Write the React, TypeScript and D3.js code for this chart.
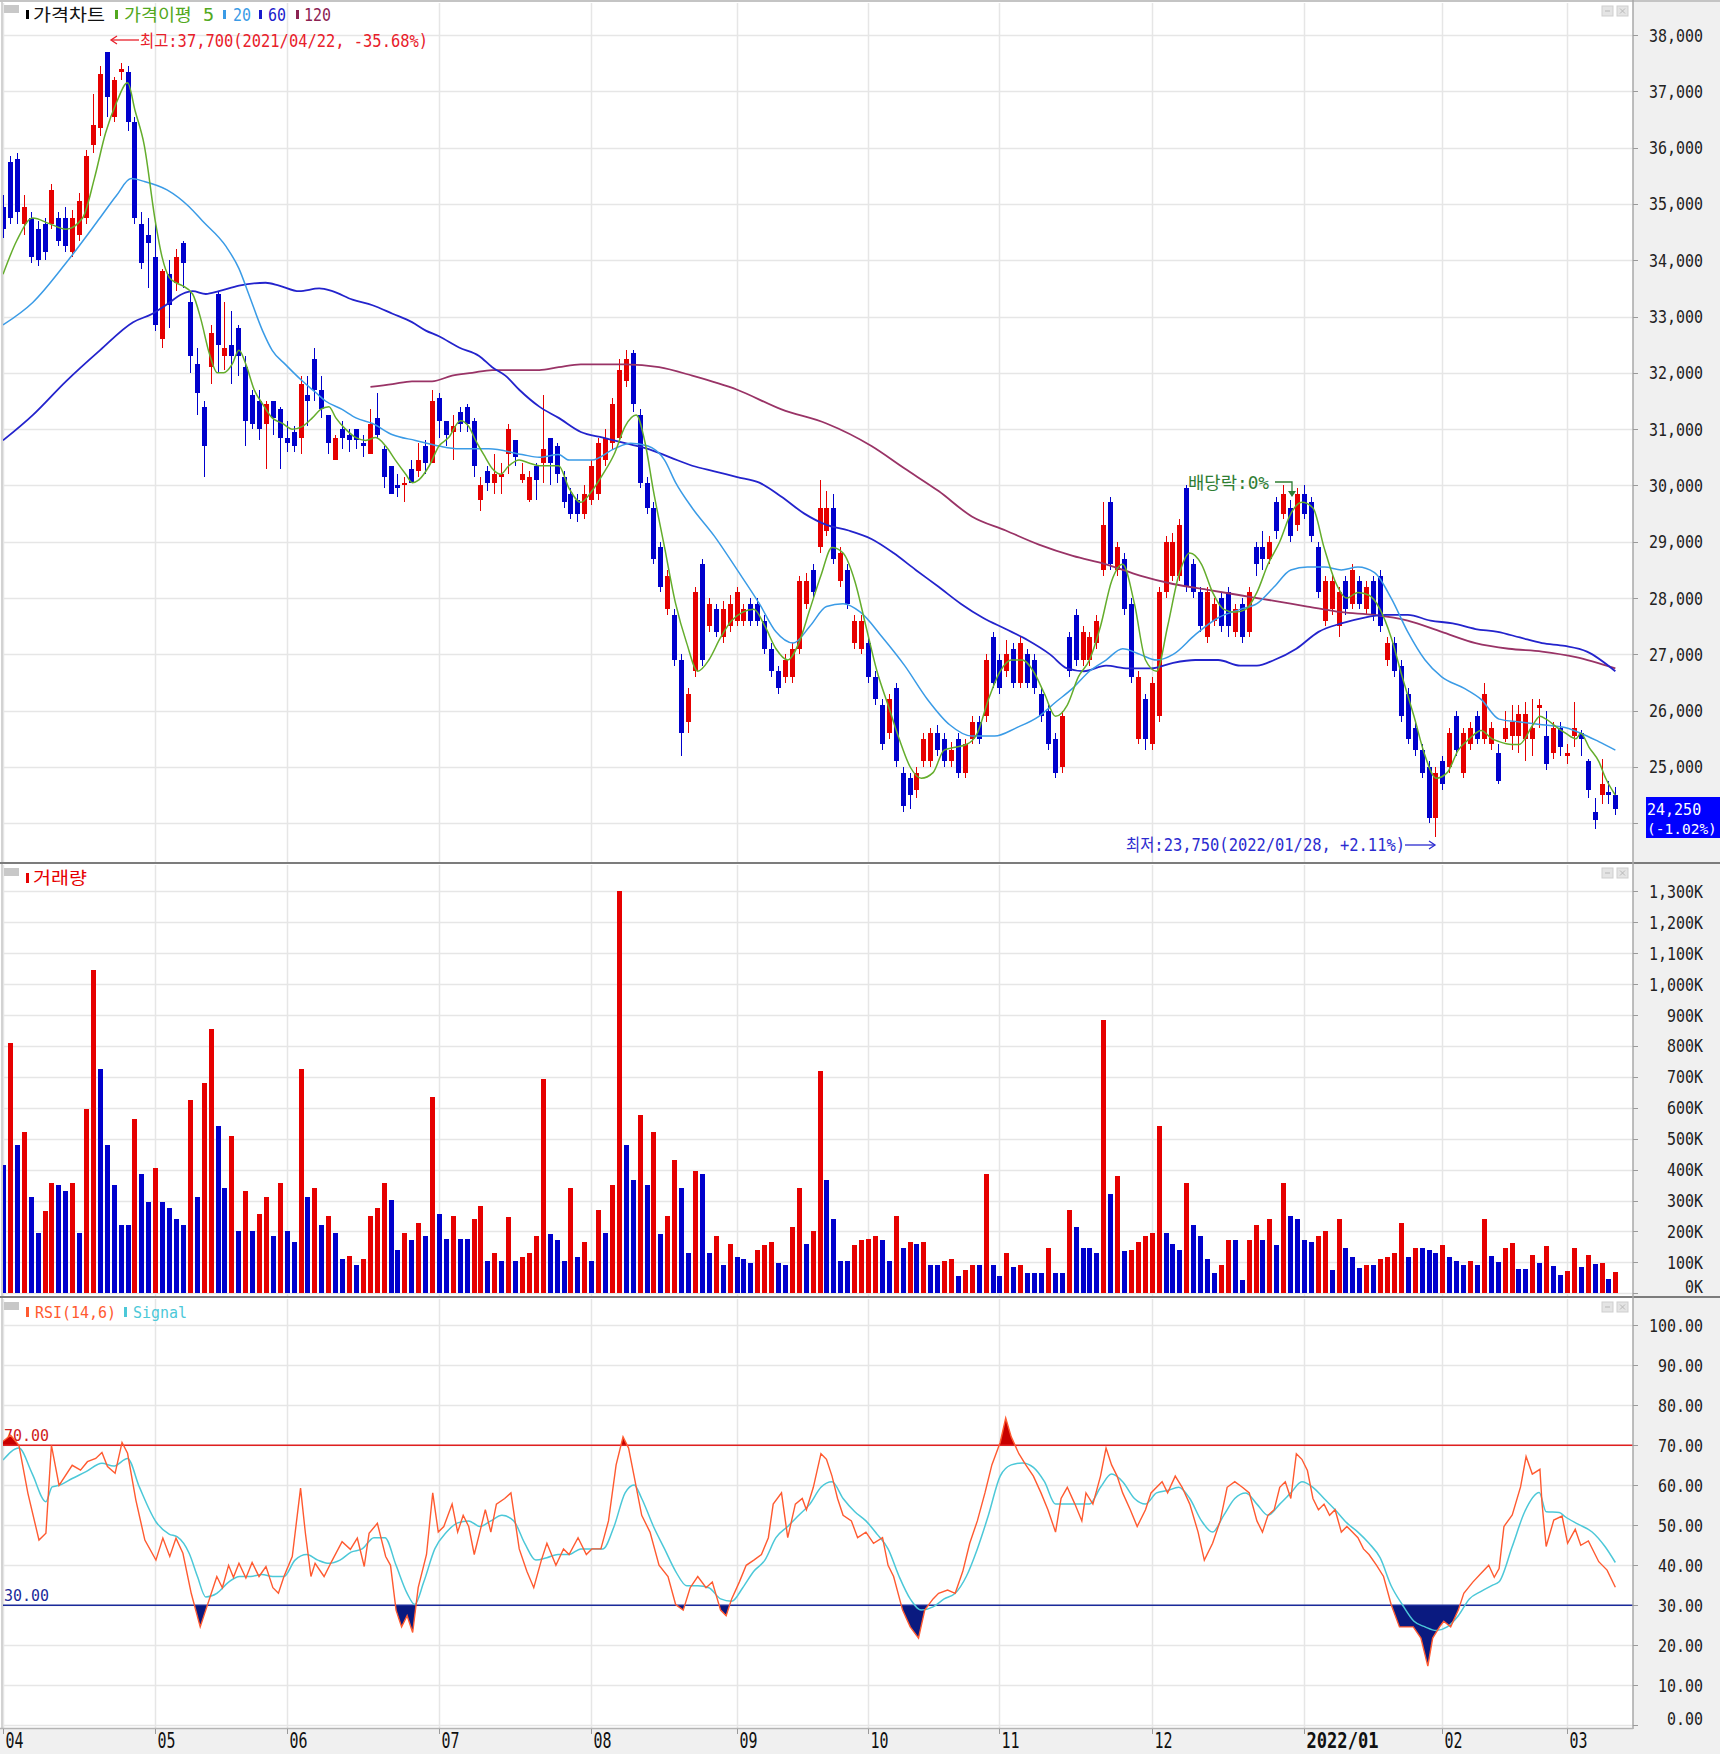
import React from 'react';
import * as d3 from 'd3';

// ---------------- DATA ----------------
const monthLabels = ['04', '05', '06', '07', '08', '09', '10', '11', '12', '2022/01', '02', '03'];
const monthStartIdx = [0, 22, 41, 63, 85, 106, 125, 144, 166, 188, 208, 226];

const opens = [
  34950,35750,35800,34650,34750,34550,34650,34650,34750,34750,
  34150,34450,34750,36050,36350,37700,36550,37350,37350,36450,
  34650,34450,34050,32600,33750,33600,34300,33250,32150,31400,
  32100,33400,32300,32500,32800,32100,31600,31500,31100,31500,
  31350,30850,30950,30850,31600,32250,31700,31250,30450,31000,
  30900,31000,30750,30550,31200,30650,30350,30000,30000,30300,
  30250,30700,30400,31550,31150,30950,31300,31400,31150,29750,
  30250,30050,30150,30550,30800,30100,29750,30350,30400,30850,
  30700,30150,29850,29750,29500,29750,29850,30450,30750,30850,
  31850,32350,31250,30050,29600,28900,27800,27700,26900,25800,
  26700,28600,27500,27800,27300,27500,27600,27600,27900,27900,
  27600,27100,26700,26600,26600,27100,27900,28500,28900,29200,
  29600,28300,28500,27200,27100,27200,26600,26100,25600,26400,
  24900,24800,24600,25100,25100,25600,25500,25100,25500,24900,
  25500,25800,25900,27300,26900,26700,27100,26500,27000,26900,
  26300,26000,25500,25000,27300,27700,26900,26900,27200,28500,
  29700,28500,28700,27900,25500,26200,25400,25900,28100,28400,
  28400,29950,28600,28100,27300,27600,28000,28100,27400,27900,
  27400,28900,28900,28700,29700,29500,29600,29300,29850,29700,
  28900,27600,27800,27500,28300,27900,28300,27800,28300,28400,
  26900,27200,26800,26300,25700,25300,25000,24100,25100,25000,
  25900,24900,25400,25900,25500,25400,25250,25500,25550,25550,
  25500,25500,26050,25550,25250,25700,25200,25550,25600,25100,
  24200,24500,24550,24500
];
const highs = [
  35150,35850,35900,35150,34850,34700,34750,35350,34850,34950,
  34900,35200,35950,36950,37450,37700,37250,37500,37450,36550,
  34850,34750,34700,33850,34000,34200,34350,33450,32450,31500,
  32850,33450,33250,33100,32850,32300,31700,31700,31500,31500,
  31400,31150,31050,31950,31950,32450,31950,31250,30900,31150,
  31000,31000,30900,31350,31650,30700,30350,30200,30150,30450,
  30750,30800,31700,31650,31150,31250,31400,31450,31200,30150,
  30350,30550,30400,31100,30800,30400,30250,30400,31600,30850,
  30750,30250,29950,29850,30000,30450,30850,31000,31550,32250,
  32400,32400,31350,30150,29700,29000,28500,27800,27000,26400,
  28200,28700,28000,27900,27950,28050,28200,27900,28000,28000,
  27700,27200,26800,27000,27200,28400,28450,28600,30100,29900,
  29850,28900,28600,27700,27700,27300,26700,26200,26300,26500,
  25000,24900,25000,25600,25700,25750,25600,25450,25600,25500,
  25900,25900,27000,27400,27000,27250,27200,27300,27100,27000,
  26400,26100,25600,26000,27400,27800,27500,27400,27700,29700,
  29800,29000,28800,28000,26700,26300,26600,28200,29100,29150,
  29400,30000,28700,28200,28200,28000,28100,28200,27900,28000,
  28200,29000,29200,29100,29800,30000,29750,29950,30000,29800,
  29000,28400,28450,28200,28400,28600,28400,28300,28400,28500,
  27300,27300,26900,26400,25800,25400,25100,25000,25200,25700,
  26000,25700,25800,26000,26500,25800,25400,26000,26100,26100,
  26150,26200,26200,26000,25800,25800,25400,26150,25650,25150,
  24450,25150,24750,24650
];
const lows = [
  34400,34650,34650,34450,33950,33900,34000,34550,34250,34150,
  34050,34350,34650,35900,36200,36550,36450,37200,36300,34650,
  33850,33500,32750,32450,32800,33450,33500,32000,31250,30150,
  31800,32000,32050,31800,31950,30700,31000,30800,30300,30900,
  30300,30600,30600,30550,31050,31500,31200,30550,30450,30650,
  30600,30650,30500,30550,30850,29950,29850,29800,29700,30050,
  30150,30200,30400,30850,30700,30450,30950,30950,30150,29550,
  29900,29850,29850,30200,30350,30050,29700,29750,30050,30000,
  30050,29600,29400,29350,29400,29650,29750,30350,30650,30750,
  31750,31300,29950,29500,28600,28100,27700,26800,25200,25600,
  26600,26800,27400,27300,27200,27400,27500,27500,27500,27500,
  27000,26600,26300,26500,26500,27000,27800,28000,28800,29100,
  28600,28200,27800,27100,27000,26500,26100,25300,25500,25000,
  24200,24250,24450,25000,25000,25200,25000,25000,24800,24800,
  25400,25400,25800,26400,26300,26600,26400,26400,26400,26300,
  25800,25300,24800,24900,26600,26800,26800,26800,27100,28400,
  28500,28400,27700,26500,25400,25300,25300,25800,28000,28300,
  28300,28100,28000,27400,27200,27500,27400,27300,27300,27200,
  27300,28400,28500,28600,29050,29400,29000,29200,29400,29000,
  28000,27500,27700,27300,27700,27800,27800,27700,27600,27400,
  26800,26600,25800,25400,25200,24800,24000,23750,24600,24900,
  25200,24800,25300,25400,25400,25300,24700,25450,25300,25250,
  25100,25200,25700,24950,25150,25200,25050,25350,25200,24450,
  23900,24350,24350,24150
];
const closes = [
  34550,34750,34850,34950,34050,34000,34150,35250,34350,34250,
  34750,35050,35850,36400,37300,36900,37200,37400,36450,34750,
  33950,34300,32850,33800,33200,34050,33950,32300,31650,30700,
  32700,32500,32450,32300,32300,31150,31100,31000,31450,31200,
  30850,30750,30700,31800,31500,31700,31350,30750,30850,30850,
  30800,30800,30700,31100,30900,30150,29850,29950,30050,30050,
  30450,30400,31500,31150,30900,31050,31100,31100,30350,30000,
  30050,30200,30200,31000,30500,30200,30150,30100,30650,30400,
  30200,29700,29500,29500,29850,30350,30750,30850,31450,32050,
  32250,31450,30050,29600,28700,28200,28400,26900,25600,26300,
  28100,26900,27900,27400,27800,27900,28100,27800,27600,27600,
  27100,26700,26400,26900,27100,28300,28300,28100,29600,29600,
  28700,28800,27900,27600,27600,26600,26200,25400,26200,25100,
  24300,24500,24900,25500,25600,25300,25100,25300,24900,25400,
  25800,25500,26900,26500,26400,27000,26500,27200,26500,26400,
  25900,25400,24900,25900,26700,26900,27400,27300,27600,29300,
  28600,28900,27800,26600,26600,25500,26500,28100,29000,29000,
  29300,28200,28100,27500,28100,27900,27500,27500,27800,27300,
  28100,28600,28700,29000,29200,29850,29100,29850,29500,29100,
  28100,28300,28300,28100,27800,28500,27900,28200,27700,27500,
  27200,26700,25900,25500,25300,24900,24100,24900,24700,25600,
  25300,25600,25700,25500,26300,25700,24750,25700,25800,25950,
  25950,25700,26100,25050,25700,25350,25250,25700,25500,24600,
  24050,24700,24500,24250
];

// volume in thousands of shares
const volumesK = [
  416,810,480,523,313,195,265,357,350,330,
  357,195,597,1046,726,480,350,221,221,563,
  387,295,405,295,276,240,221,626,313,681,
  855,541,339,508,203,331,203,258,313,184,
  357,203,166,726,313,339,221,250,195,110,
  122,92,110,250,276,357,302,140,195,173,
  228,184,634,258,177,250,177,177,240,284,
  103,129,103,247,103,118,129,184,692,192,
  173,103,339,118,166,103,269,195,350,1300,
  480,368,578,350,523,192,250,431,339,129,
  394,387,129,184,92,158,118,110,99,140,
  155,166,99,92,214,339,158,203,718,368,
  240,103,103,155,173,177,184,173,103,250,
  147,166,158,166,92,92,103,110,55,74,
  92,92,387,92,55,129,85,92,66,66,
  66,147,66,66,269,214,147,147,129,884,
  320,379,136,140,166,184,195,541,195,158,
  140,357,221,184,110,66,92,173,173,44,
  173,221,173,240,155,357,250,240,173,166,
  184,203,74,240,147,118,81,92,92,110,
  118,129,228,118,147,147,140,129,155,118,
  103,92,103,92,240,122,102,145,162,78,
  77,124,99,153,89,59,73,148,84,124,
  94,97,45,68
];

// moving averages: [day index, price]
const ma5: [number, number][] = [
  [0,33750],[2,34350],[4.3,34750],[6.7,34650],[9.1,34550],[11.5,34750],[13.2,35450],[14.8,36250],[16.4,36800],[18,37150],
  [19.1,36650],[20.4,36050],[22,34700],[23,34050],[24,33700],[25,33600],[25.9,33550],[27.4,33400],[28.6,32950],[29.8,32350],
  [31,32000],[31.9,32000],[33.1,32150],[34.1,32400],[35.1,32150],[36.3,31700],[37.5,31450],[38.9,31200],[40.4,31100],[41.8,31000],
  [43.3,31050],[44.7,31200],[45.9,31350],[47.1,31400],[48.1,31200],[49.5,31000],[51,30850],[52.4,30800],[53.85,30850],[55.3,30700],
  [56.7,30450],[58.2,30200],[59.15,30050],[60.1,30100],[61.6,30350],[63,30700],[64.4,30850],[66.1,31150],[67.3,31050],[68.3,30800],
  [69.7,30500],[70.7,30300],[71.9,30200],[73.1,30350],[74.6,30450],[76,30400],[77.5,30350],[78.9,30350],[80.3,30350],[81.8,29950],
  [83.5,29700],[85.1,29900],[86.7,30200],[88.3,30550],[89.9,31050],[91.5,31250],[92.8,30750],[94,29900],[95.6,28900],[97.2,27900],
  [98.8,27200],[100.4,26700],[102,26900],[103.7,27300],[105.3,27600],[106.9,27750],[108.5,27800],[110.1,27500],[111.7,27100],[113.4,26900],
  [115,27200],[116.6,27800],[118.2,28400],[119.8,28900],[121.4,28800],[123.1,28300],[124.7,27500],[126.3,26700],[127.9,26100],[129.5,25500],
  [131.1,25000],[132.7,24800],[134.4,24900],[136,25300],[137.6,25350],[139.2,25400],[140.8,25600],[142.4,26200],[144.1,26700],[145.7,26900],
  [147.3,26900],[148.9,26700],[150.5,26300],[152.1,25900],[153.8,26100],[155.4,26600],[157,26900],[158.6,27500],[160.2,28300],[161.8,28600],
  [163.5,27900],[165.1,26900],[166.7,26700],[168.3,27500],[169.9,28400],[171.5,28800],[173.2,28600],[174.8,28100],[176.4,27800],[178,27750],
  [179.6,27800],[181.2,28100],[182.8,28600],[184.5,29000],[186.1,29500],[187.7,29700],[189.3,29600],[190.9,28900],[192.5,28300],[194.2,28000],
  [195.8,28100],[197.4,28050],[199,27800],[200.6,27300],[202.2,26600],[203.9,25900],[205.5,25200],[207.1,24800],[208.7,24900],[210.3,25300],
  [211.9,25500],[213.6,25650],[215.2,25500],[216.2,25450],[218,25400],[219.1,25400],[221.1,25750],[222.1,25900],[223,25850],[224.6,25700],
  [225.8,25600],[227.3,25500],[228,25600],[229.2,25350],[230.6,25100],[231.6,24800],[233,24500]
];
const ma20: [number, number][] = [
  [0,32850],[4.3,33250],[9.1,33950],[14,34750],[16.4,35150],[18.5,35450],[20.4,35400],[23.7,35250],[26.9,34950],[28.8,34700],
  [32.2,34250],[34.1,33850],[35.5,33400],[37.5,32750],[38.9,32400],[40.8,32150],[43.3,31850],[45.2,31650],[46.6,31500],[49,31350],
  [51,31200],[53.4,31100],[56.3,30900],[59.6,30800],[63,30700],[65.9,30650],[70.2,30650],[75,30550],[77.5,30500],[80.3,30550],
  [81.8,30450],[85.1,30450],[88.3,30650],[90.7,30750],[93.2,30700],[95.6,30450],[97.2,30050],[99.6,29600],[102.8,29100],[106.1,28500],
  [109.3,27900],[111.7,27400],[114.2,27200],[116.6,27500],[119,27850],[121.4,27900],[123.9,27750],[127.1,27300],[130.3,26800],[133.6,26200],
  [136.8,25750],[140,25550],[143.3,25550],[146.5,25700],[149.7,25900],[152.1,26150],[154.6,26400],[157,26700],[159.4,26900],[161.8,27100],
  [164.3,27000],[166.7,26900],[169.1,27000],[172.3,27350],[175.6,27650],[178.8,27800],[181.2,27900],[183.7,28200],[186.1,28500],[188.5,28550],
  [191,28550],[193.4,28500],[195.8,28550],[198.2,28450],[200.6,28000],[203,27400],[205.5,26900],[207.9,26600],[211.1,26400],[213.6,26200],
  [216.2,25850],[219.2,25800],[222.4,25750],[225.7,25700],[228,25600],[230.6,25450],[233,25300]
];
const ma60: [number, number][] = [
  [0,30800],[4.3,31250],[9.1,31850],[14,32400],[18.8,32900],[21.6,33050],[23.5,33200],[25.9,33400],[27.4,33450],[29.3,33400],
  [31.2,33450],[34.1,33550],[37.95,33600],[39.9,33550],[42.8,33450],[45.7,33500],[47.6,33450],[50.5,33300],[53.4,33200],[56.3,33050],
  [59.1,32900],[61.1,32750],[63,32650],[65.9,32450],[68.8,32300],[70.7,32100],[72.6,31950],[74.6,31700],[77.5,31400],[80.3,31200],
  [83.5,30950],[86.7,30850],[89.9,30750],[93.2,30650],[96.4,30500],[99.6,30350],[102.8,30250],[106.1,30150],[109.3,30050],[112.5,29800],
  [115.8,29500],[119,29300],[122.2,29200],[125.5,29050],[128.7,28800],[131.9,28500],[135.2,28200],[138.4,27900],[141.6,27650],[144.9,27450],
  [148.1,27250],[151.3,27000],[153.8,26750],[156.2,26700],[159.4,26800],[162.6,26750],[165.9,26750],[169.1,26850],[172.3,26900],[175.6,26900],
  [178.8,26800],[181.2,26800],[183.7,26900],[186.9,27100],[190.1,27400],[193.4,27550],[196.6,27650],[199.8,27700],[203,27700],[206.3,27600],
  [209.5,27550],[212.8,27450],[216,27400],[219.2,27300],[222.4,27200],[225.7,27150],[228.9,27050],[233,26700]
];
const ma120: [number, number][] = [
  [53.1,31750],[56.3,31800],[59.1,31850],[62,31850],[64.9,31950],[67.8,32000],[70.7,32050],[74.6,32050],[77.5,32050],[80.3,32100],
  [83.5,32150],[89.9,32150],[94.8,32100],[99.6,31950],[106.1,31700],[112.5,31350],[119,31100],[125.5,30700],[130.3,30300],[135.2,29900],
  [140,29450],[144.9,29200],[149.7,28950],[154.6,28750],[159.4,28600],[164.3,28400],[169.1,28250],[173.9,28150],[178.8,28050],[183.7,27950],
  [188.5,27850],[193.4,27750],[198.2,27700],[203,27600],[207.9,27400],[212.8,27200],[217.6,27100],[222.4,27050],[227.3,26950],[233,26750]
];

// RSI(14) and its signal: [day index, value]
const rsi: [number, number][] = [
  [0,71],[1.1,72.5],[2.3,70],[3.6,58],[5.2,46.3],[6.2,48],[7,70],[8.1,60],[10,65],[11.2,63.8],
  [12.2,65.9],[13.4,66.7],[14.3,68.2],[15.1,64.7],[16.2,63],[17.2,70.7],[18,68],[19.2,56.3],[20.5,46.3],[22.1,41.3],
  [23.1,46.8],[24.1,42.2],[25,46.8],[26,43],[27.2,33],[28.5,24.6],[29.3,28.8],[30.1,33],[30.9,37.2],[31.7,34.4],
  [32.6,40],[33.3,37],[34.1,40.5],[35.1,36.8],[36,40.7],[37,37.2],[38,39.7],[39,34.4],[39.8,33],[40.6,37.2],
  [41.8,42.2],[43,59.3],[43.7,48],[44.5,37.2],[45.1,40.5],[46.4,37.2],[47.5,41],[49,45.9],[50.2,44],[51.2,46.8],
  [52.2,39.7],[52.9,48],[54.1,50.5],[55.3,42.2],[56,40],[56.8,28.8],[57.6,24.6],[58.4,27.4],[59.2,23.2],[60,34.4],
  [61.2,42.7],[62.1,58.1],[62.9,48.3],[63.7,49.7],[64.9,55.3],[65.7,48.3],[66.5,52.5],[67.3,49.7],[68.1,42.7],[68.9,48.3],
  [69.7,53.9],[70.5,48.3],[71.3,55.3],[72.5,56.7],[73.4,58.1],[74.6,44.1],[75.7,38.5],[76.7,34.4],[77.8,41.3],[78.6,45.5],
  [79.9,40],[81,44.1],[81.8,42.7],[83.1,46.9],[84.3,42.7],[85.1,44.1],[86.4,44.1],[87.5,51.1],[88.6,65.1],[89.6,72.1],
  [90.4,69.3],[91.2,62.3],[92.3,52.5],[93.5,48.3],[94.8,40],[96.1,37.2],[97.2,30.2],[98.3,28.8],[99.3,34.4],[100.4,37.2],
  [101.6,34.4],[102.5,35.8],[103.7,28.8],[104.5,27.4],[105.3,31.6],[106.4,35.8],[107.4,40],[108.5,41.3],[109.6,42.7],[110.6,46.9],
  [111.3,55.3],[112.5,58.1],[113.4,46.9],[114.5,55.3],[115.5,56.7],[116.1,53.9],[117.1,59.5],[118.2,67.9],[119,66.5],[119.8,62.3],
  [120.6,56.7],[121.4,52.5],[122.6,51.1],[123.5,46.9],[124.7,48.3],[125.8,45.5],[127.1,46.9],[127.9,40],[128.7,37.2],[130,28.8],
  [131.1,24.6],[132.3,21.8],[133.2,28.8],[134.4,31.6],[135.2,33],[136.5,33.8],[137.6,33],[138.7,38.5],[139.7,45.5],[140.8,51.1],
  [141.9,58.1],[142.9,65.1],[144.1,70.7],[144.9,76.8],[145.7,72.1],[146.8,67.9],[147.8,65.1],[148.9,62.3],[150,58.1],[151,53.9],
  [152.1,48.3],[152.9,56.7],[153.8,59.5],[154.9,55.3],[155.9,51.1],[156.5,58.1],[157.5,55.3],[158.6,62.3],[159.4,69.3],[160.2,65.1],
  [161,62.3],[161.8,58.1],[162.9,53.9],[163.9,49.7],[165.1,53.9],[165.9,58.1],[166.7,59.5],[167.5,60.9],[168.3,58.1],[169.4,62.3],
  [170.4,59.5],[171.5,55.3],[172.7,48.3],[173.6,41.3],[174.8,45.5],[175.9,51.1],[176.9,59.5],[178,60.9],[179.1,59.5],[180.1,58.1],
  [181.2,51.1],[182,48.3],[182.8,52.5],[183.7,53.9],[184.5,59.5],[185.3,60.9],[186.1,56.7],[186.9,67.9],[187.7,66.5],[188.5,63.7],
  [189.3,56.7],[190.1,53.9],[190.9,55.3],[191.7,52.5],[192.5,53.9],[193.4,48.3],[194.2,49.7],[195,48.3],[195.8,46.9],[196.6,44.1],
  [197.4,42.7],[198.5,40],[199.5,37.2],[200.6,30.2],[201.8,24.6],[202.7,24.6],[203.8,24.6],[204.9,21.8],[205.9,14.8],[206.6,21.8],
  [207.6,24.6],[208.2,26],[209.2,24.6],[210.3,28.8],[211.1,33],[212.4,35.8],[213.6,38],[214.7,40],[215.5,37],[216.2,39.2],
  [216.9,49.7],[218.1,52.6],[219.3,59.6],[220.1,67.2],[221,62.8],[222.1,64],[222.4,55.5],[223,44.7],[224.1,51.3],[225.3,52.3],
  [226.1,45.5],[227.2,49],[228,45],[229.1,46.1],[230.6,40.9],[231.8,38.8],[233,34.5]
];
const signal: [number, number][] = [
  [0,66.3],[2.3,69.3],[4.2,63],[6.2,55.9],[7.1,59.6],[8.1,60],[10,61.7],[12,63.4],[14.3,65.5],[16,64.8],
  [18,66.7],[19.7,59.6],[22.1,50.9],[24,47.8],[25.2,47.1],[26.9,43],[28.1,37.2],[29.3,32.1],[30.9,33],[32.6,35.8],
  [34.2,37.2],[35.8,37.2],[37.4,37.7],[39,37.2],[40.6,37.2],[42.2,41.3],[43.9,42.7],[45.5,41.3],[47.1,40.5],[48.7,41.3],
  [50.3,43.3],[51.9,44.1],[53.6,46.9],[55.2,46.9],[56.8,40],[58.4,33],[59.5,30.2],[60.8,35.8],[62.4,44.1],[64.1,48.3],
  [65.7,50.6],[67.3,51.1],[68.9,49.7],[70.5,51.1],[72.1,52.5],[73.8,51.1],[75.4,45.5],[77,41.3],[78.6,41.9],[80.2,42.7],
  [81.8,42.7],[83.5,44.1],[85.1,44.1],[86.7,44.1],[88.3,49.7],[89.9,58.1],[91.2,60.1],[92.3,56.7],[94,49.7],[95.6,44.1],
  [97.2,38.5],[98.8,34.9],[100.4,34.9],[102,34.4],[103.7,31.6],[105.3,31],[106.9,34.4],[108.5,38.5],[110.1,41.3],[111.7,46.9],
  [113.4,49.7],[115,52.5],[116.6,55.3],[118.2,59.5],[119.8,60.9],[121.4,56.7],[123.1,53.4],[124.7,51.1],[126.3,47.8],[127.9,44.1],
  [129.5,37.2],[131.1,31.6],[132.7,28.8],[134.4,29.6],[136,31.6],[137.6,33],[139.2,37.2],[140.8,44.1],[142.4,52.5],[144.1,62.3],
  [145.7,65.1],[147.3,65.6],[148.9,64.5],[150.5,60.9],[152.1,55.3],[153.8,55.3],[155.4,55.3],[157,55.3],[158.6,59.5],[160.2,62.8],
  [161.8,60.9],[163.5,56.7],[165.1,55.3],[166.7,58.1],[168.3,58.7],[169.9,59.5],[171.5,56.7],[173.2,51.1],[174.8,48.3],[176.4,52.5],
  [178,56.7],[179.6,58.1],[181.2,55.3],[182.8,52.5],[184.5,55.3],[186.1,58.1],[187.7,60.9],[189.3,59.5],[190.9,56.7],[192.5,53.9],
  [194.2,50.6],[195.8,48.3],[197.4,45.5],[199,41.9],[200.6,34.9],[202.2,30.2],[203.9,26],[205.5,24.6],[207.1,23.7],[208.7,24.6],
  [210.3,27.4],[211.9,31.6],[213.6,33.5],[215.2,35],[216.2,35.9],[218.1,44.7],[219.9,53.4],[222,58.2],[223,53.4],[224.9,53.2],
  [225.7,52.2],[227.6,50.3],[229.6,48.4],[231.5,44.7],[233,40.7]
];

const priceTicks = d3.range(24000, 38001, 1000);
const volumeTicks = d3.range(0, 1301, 100);
const rsiTicks = d3.range(0, 101, 10);

// ---------------- LAYOUT ----------------
const W = 1720, H = 1754;
const PL = 3, PR = 1633;
const N = closes.length;
const xs = d3.scaleLinear().domain([0, 233]).range([3, 3 + 233 * 6.92]);
const yP = d3.scaleLinear().domain([24000, 38000]).range([823.3, 35]);
const yV = d3.scaleLinear().domain([0, 1300]).range([1293.3, 891.4]);
const yR = d3.scaleLinear().domain([0, 100]).range([1725.3, 1325.3]);

const RED = '#e60000';
const BLUE = '#0000cc';
const GRID = '#e6e6e6';
const FONT = "'DejaVu Sans Mono', 'Liberation Mono', 'Noto Sans CJK KR', monospace";

function tlen(s: string, a = 9, k = 18) {
  let n = 0;
  for (const ch of s) n += ch.charCodeAt(0) >= 0x1100 ? k : a;
  return n;
}

function Txt({ x, y, s, size = 17, fill = '#000', weight = 'normal', len }: any) {
  const L = len ?? tlen(s);
  return (
    <text x={x} y={y} fontSize={size} fill={fill} fontWeight={weight} fontFamily={FONT}
      textLength={L} lengthAdjust="spacingAndGlyphs">{s}</text>
  );
}

function PanelIcons({ y }: { y: number }) {
  return (
    <g>
      <rect x={1602} y={y} width={11} height={10} fill="#e4e4e4" stroke="#cfcfcf" />
      <line x1={1605} x2={1610} y1={y + 5} y2={y + 5} stroke="#b8b8b8" />
      <rect x={1617} y={y} width={11} height={10} fill="#e4e4e4" stroke="#cfcfcf" />
      <line x1={1620} x2={1625} y1={y + 2.5} y2={y + 7.5} stroke="#b8b8b8" />
      <line x1={1625} x2={1620} y1={y + 2.5} y2={y + 7.5} stroke="#b8b8b8" />
    </g>
  );
}

export default function App() {
  const lineP = (curve: any) =>
    d3.line<[number, number]>().x(d => xs(d[0])).y(d => yP(d[1])).curve(curve);
  const lineR = (curve: any) =>
    d3.line<[number, number]>().x(d => xs(d[0])).y(d => yR(d[1])).curve(curve);
  const area70 = d3.area<[number, number]>().x(d => xs(d[0])).y0(yR(70)).y1(d => yR(d[1]));
  const area30 = d3.area<[number, number]>().x(d => xs(d[0])).y0(yR(30)).y1(d => yR(d[1]));

  const vlines = monthStartIdx.map(i => Math.round(xs(i)) + 0.5);

  const panelGrid = (top: number, bottom: number, ys: number[]) => (
    <g>
      {ys.map((y, k) => (
        <line key={'h' + k} x1={PL} x2={PR} y1={y} y2={y} stroke={GRID} strokeWidth={1.5} />
      ))}
      {vlines.map((x, k) => (
        <line key={'v' + k} x1={x} x2={x} y1={top} y2={bottom} stroke={GRID} strokeWidth={1.5} />
      ))}
    </g>
  );

  const axisTicks = (ys: number[]) =>
    ys.map((y, k) => <line key={k} x1={PR} x2={PR + 5} y1={y} y2={y} stroke="#9a9a9a" />);

  return (
    <svg width={W} height={H} viewBox={`0 0 ${W} ${H}`}
      style={{ position: 'absolute', left: 0, top: 0, background: '#fff' }}>
      <defs>
        <clipPath id="cp"><rect x={PL} y={3} width={PR - PL} height={859} /></clipPath>
        <clipPath id="cv"><rect x={PL} y={865} width={PR - PL} height={431} /></clipPath>
        <clipPath id="cr"><rect x={PL} y={1299} width={PR - PL} height={429} /></clipPath>
        <clipPath id="c70"><rect x={PL} y={1299} width={PR - PL} height={yR(70) - 1299} /></clipPath>
        <clipPath id="c30"><rect x={PL} y={yR(30)} width={PR - PL} height={1728 - yR(30)} /></clipPath>
      </defs>

      {/* backgrounds */}
      <rect x={0} y={0} width={W} height={H} fill="#fff" />
      <rect x={PR} y={0} width={W - PR} height={H} fill="#f0f0f0" />
      <rect x={0} y={1729} width={W} height={H - 1729} fill="#f0f0f0" />

      {/* grids */}
      {panelGrid(3, 862, priceTicks.map(p => Math.round(yP(p)) + 0.5))}
      {panelGrid(865, 1296, volumeTicks.map(v => Math.round(yV(v)) + 0.5))}
      {panelGrid(1299, 1728, rsiTicks.map(v => Math.round(yR(v)) + 0.5))}

      {/* ---------- PRICE PANEL ---------- */}
      <g clipPath="url(#cp)" shapeRendering="crispEdges">
        {d3.range(N).map(i => {
          const o = opens[i], c = closes[i];
          const col = c >= o ? RED : BLUE;
          const cx = Math.round(xs(i));
          const top = Math.round(yP(Math.max(o, c)));
          const bot = Math.round(yP(Math.min(o, c)));
          return (
            <g key={i}>
              <rect x={cx} y={Math.round(yP(highs[i]))} width={1.2}
                height={Math.max(1, Math.round(yP(lows[i])) - Math.round(yP(highs[i])))} fill={col} />
              <rect x={cx - 2} y={top} width={5} height={Math.max(2, bot - top)} fill={col} />
            </g>
          );
        })}
      </g>
      <g clipPath="url(#cp)" fill="none">
        <path d={lineP(d3.curveMonotoneX)(ma120) || ''} stroke="#993366" strokeWidth={1.8} />
        <path d={lineP(d3.curveMonotoneX)(ma60) || ''} stroke="#2323cc" strokeWidth={1.8} />
        <path d={lineP(d3.curveMonotoneX)(ma20) || ''} stroke="#3a9be6" strokeWidth={1.5} />
        <path d={lineP(d3.curveMonotoneX)(ma5) || ''} stroke="#64ad2c" strokeWidth={1.5} />
      </g>

      {/* price legend */}
      <rect x={4} y={5} width={15} height={8} fill="#c8c8c8" />
      <rect x={26} y={10} width={3} height={9} fill="#000" />
      <Txt x={33} y={21} s="가격차트" fill="#111" />
      <rect x={115} y={10} width={3} height={9} fill="#52a820" />
      <Txt x={124} y={21} s="가격이평 5" fill="#52a820" />
      <rect x={223} y={10} width={3} height={9} fill="#3a9be6" />
      <Txt x={233} y={21} s="20" fill="#3a9be6" />
      <rect x={259} y={10} width={3} height={9} fill="#1a1acc" />
      <Txt x={268} y={21} s="60" fill="#1a1acc" />
      <rect x={296} y={10} width={3} height={9} fill="#8b2252" />
      <Txt x={304} y={21} s="120" fill="#8b2252" />
      <PanelIcons y={6} />

      {/* annotations */}
      <g stroke="#e8202a" strokeWidth={1.3} fill="none">
        <line x1={112} x2={139} y1={40} y2={40} />
        <path d="M117,36 L111,40 L117,44" />
      </g>
      <Txt x={140} y={47} s="최고:37,700(2021/04/22, -35.68%)" fill="#e8202a" />

      <Txt x={1126} y={851} s="최저:23,750(2022/01/28, +2.11%)" fill="#2b2bd0" />
      <g stroke="#2b2bd0" strokeWidth={1.3} fill="none">
        <line x1={1405} x2={1435} y1={845} y2={845} />
        <path d="M1429,841 L1435,845 L1429,849" />
      </g>

      <Txt x={1188} y={489} s="배당락:0%" fill="#2e7d32" />
      <g stroke="#2e7d32" strokeWidth={1.3} fill="none">
        <polyline points="1275,482 1292,482 1292,492" />
      </g>
      <path d="M1288,491 L1296,491 L1292,497 Z" fill="#2e7d32" />

      {/* ---------- VOLUME PANEL ---------- */}
      <g clipPath="url(#cv)" shapeRendering="crispEdges">
        {volumesK.map((v, i) => {
          const up = i > 0 && v > volumesK[i - 1];
          const y = Math.round(yV(v));
          return (
            <rect key={i} x={Math.round(xs(i)) - 2} y={y} width={5}
              height={Math.round(yV(0)) - y} fill={up ? RED : BLUE} />
          );
        })}
      </g>
      <rect x={4} y={868} width={15} height={8} fill="#c8c8c8" />
      <rect x={26} y={873} width={3} height={10} fill={RED} />
      <Txt x={33} y={884} s="거래량" fill={RED} />
      <PanelIcons y={868} />

      {/* ---------- RSI PANEL ---------- */}
      <Txt x={4} y={1441} s="70.00" fill="#d02020" size={16} />
      <Txt x={4} y={1601} s="30.00" fill="#1a2a9a" size={16} />
      <g clipPath="url(#c70)">
        <path d={area70(rsi) || ''} fill="#c80000" />
      </g>
      <g clipPath="url(#c30)">
        <path d={area30(rsi) || ''} fill="#0a1a80" />
      </g>
      <line x1={PL} x2={PR} y1={yR(70)} y2={yR(70)} stroke="#e02020" strokeWidth={1.5} />
      <line x1={PL} x2={PR} y1={yR(30)} y2={yR(30)} stroke="#1a2a9a" strokeWidth={1.5} />
      <g clipPath="url(#cr)" fill="none">
        <path d={lineR(d3.curveMonotoneX)(signal) || ''} stroke="#4cc8d8" strokeWidth={1.5} />
        <path d={lineR(d3.curveLinear)(rsi) || ''} stroke="#ff5a30" strokeWidth={1.4} />
      </g>
      <rect x={4} y={1302} width={15} height={8} fill="#c8c8c8" />
      <rect x={26} y={1307} width={3} height={10} fill="#ff5a30" />
      <Txt x={35} y={1318} s="RSI(14,6)" fill="#ff5a30" size={16} />
      <rect x={124} y={1307} width={3} height={10} fill="#4cc8d8" />
      <Txt x={133} y={1318} s="Signal" fill="#4cc8d8" size={16} />
      <PanelIcons y={1302} />

      {/* ---------- FRAME ---------- */}
      <line x1={0} x2={W} y1={1} y2={1} stroke="#c4c4c4" strokeWidth={2} />
      <line x1={2} x2={2} y1={0} y2={1729} stroke="#c4c4c4" strokeWidth={1.5} />
      <line x1={0} x2={W} y1={863} y2={863} stroke="#7c7c7c" strokeWidth={2} />
      <line x1={0} x2={W} y1={1297} y2={1297} stroke="#7c7c7c" strokeWidth={2} />
      <line x1={PR} x2={PR} y1={0} y2={1729} stroke="#a8a8a8" strokeWidth={1.5} />
      <line x1={0} x2={PR} y1={1728.5} y2={1728.5} stroke="#b4b4b4" strokeWidth={1.5} />

      {/* right axes */}
      {axisTicks(priceTicks.map(p => Math.round(yP(p)) + 0.5))}
      {priceTicks.filter(p => p > 24000).map(p => {
        const s = d3.format(',')(p);
        return <Txt key={p} x={1703 - tlen(s)} y={yP(p) + 6.5} s={s} size={18} fill="#222" />;
      })}
      {axisTicks(volumeTicks.map(v => Math.round(yV(v)) + 0.5))}
      {volumeTicks.map(v => {
        const s = d3.format(',')(v) + 'K';
        return <Txt key={v} x={1703 - tlen(s)} y={v === 0 ? yV(v) : yV(v) + 6.5} s={s} size={18} fill="#222" />;
      })}
      {axisTicks(rsiTicks.map(v => Math.round(yR(v)) + 0.5))}
      {rsiTicks.map(v => {
        const s = v.toFixed(2);
        return <Txt key={v} x={1703 - tlen(s)} y={v === 0 ? yR(v) : yR(v) + 6.5} s={s} size={18} fill="#222" />;
      })}

      {/* current price box */}
      <rect x={1646} y={797} width={74} height={41} fill="#0000ff" />
      <text x={1647} y={815} fontSize={15} fill="#fff" fontFamily={FONT}>24,250</text>
      <text x={1647} y={834} fontSize={14.5} fill="#fff" fontFamily={FONT}>(-1.02%)</text>

      {/* x axis */}
      {monthStartIdx.map((i, k) => {
        const x = Math.round(xs(i)) + 0.5;
        const s = monthLabels[k];
        const bold = s.length > 2;
        return (
          <g key={k}>
            <line x1={x} x2={x} y1={1729} y2={1734} stroke="#9a9a9a" />
            <Txt x={x + 2} y={1748} s={s} size={21} fill="#111" weight={bold ? 'bold' : 'normal'}
              len={bold ? 72 : tlen(s)} />
          </g>
        );
      })}
    </svg>
  );
}
